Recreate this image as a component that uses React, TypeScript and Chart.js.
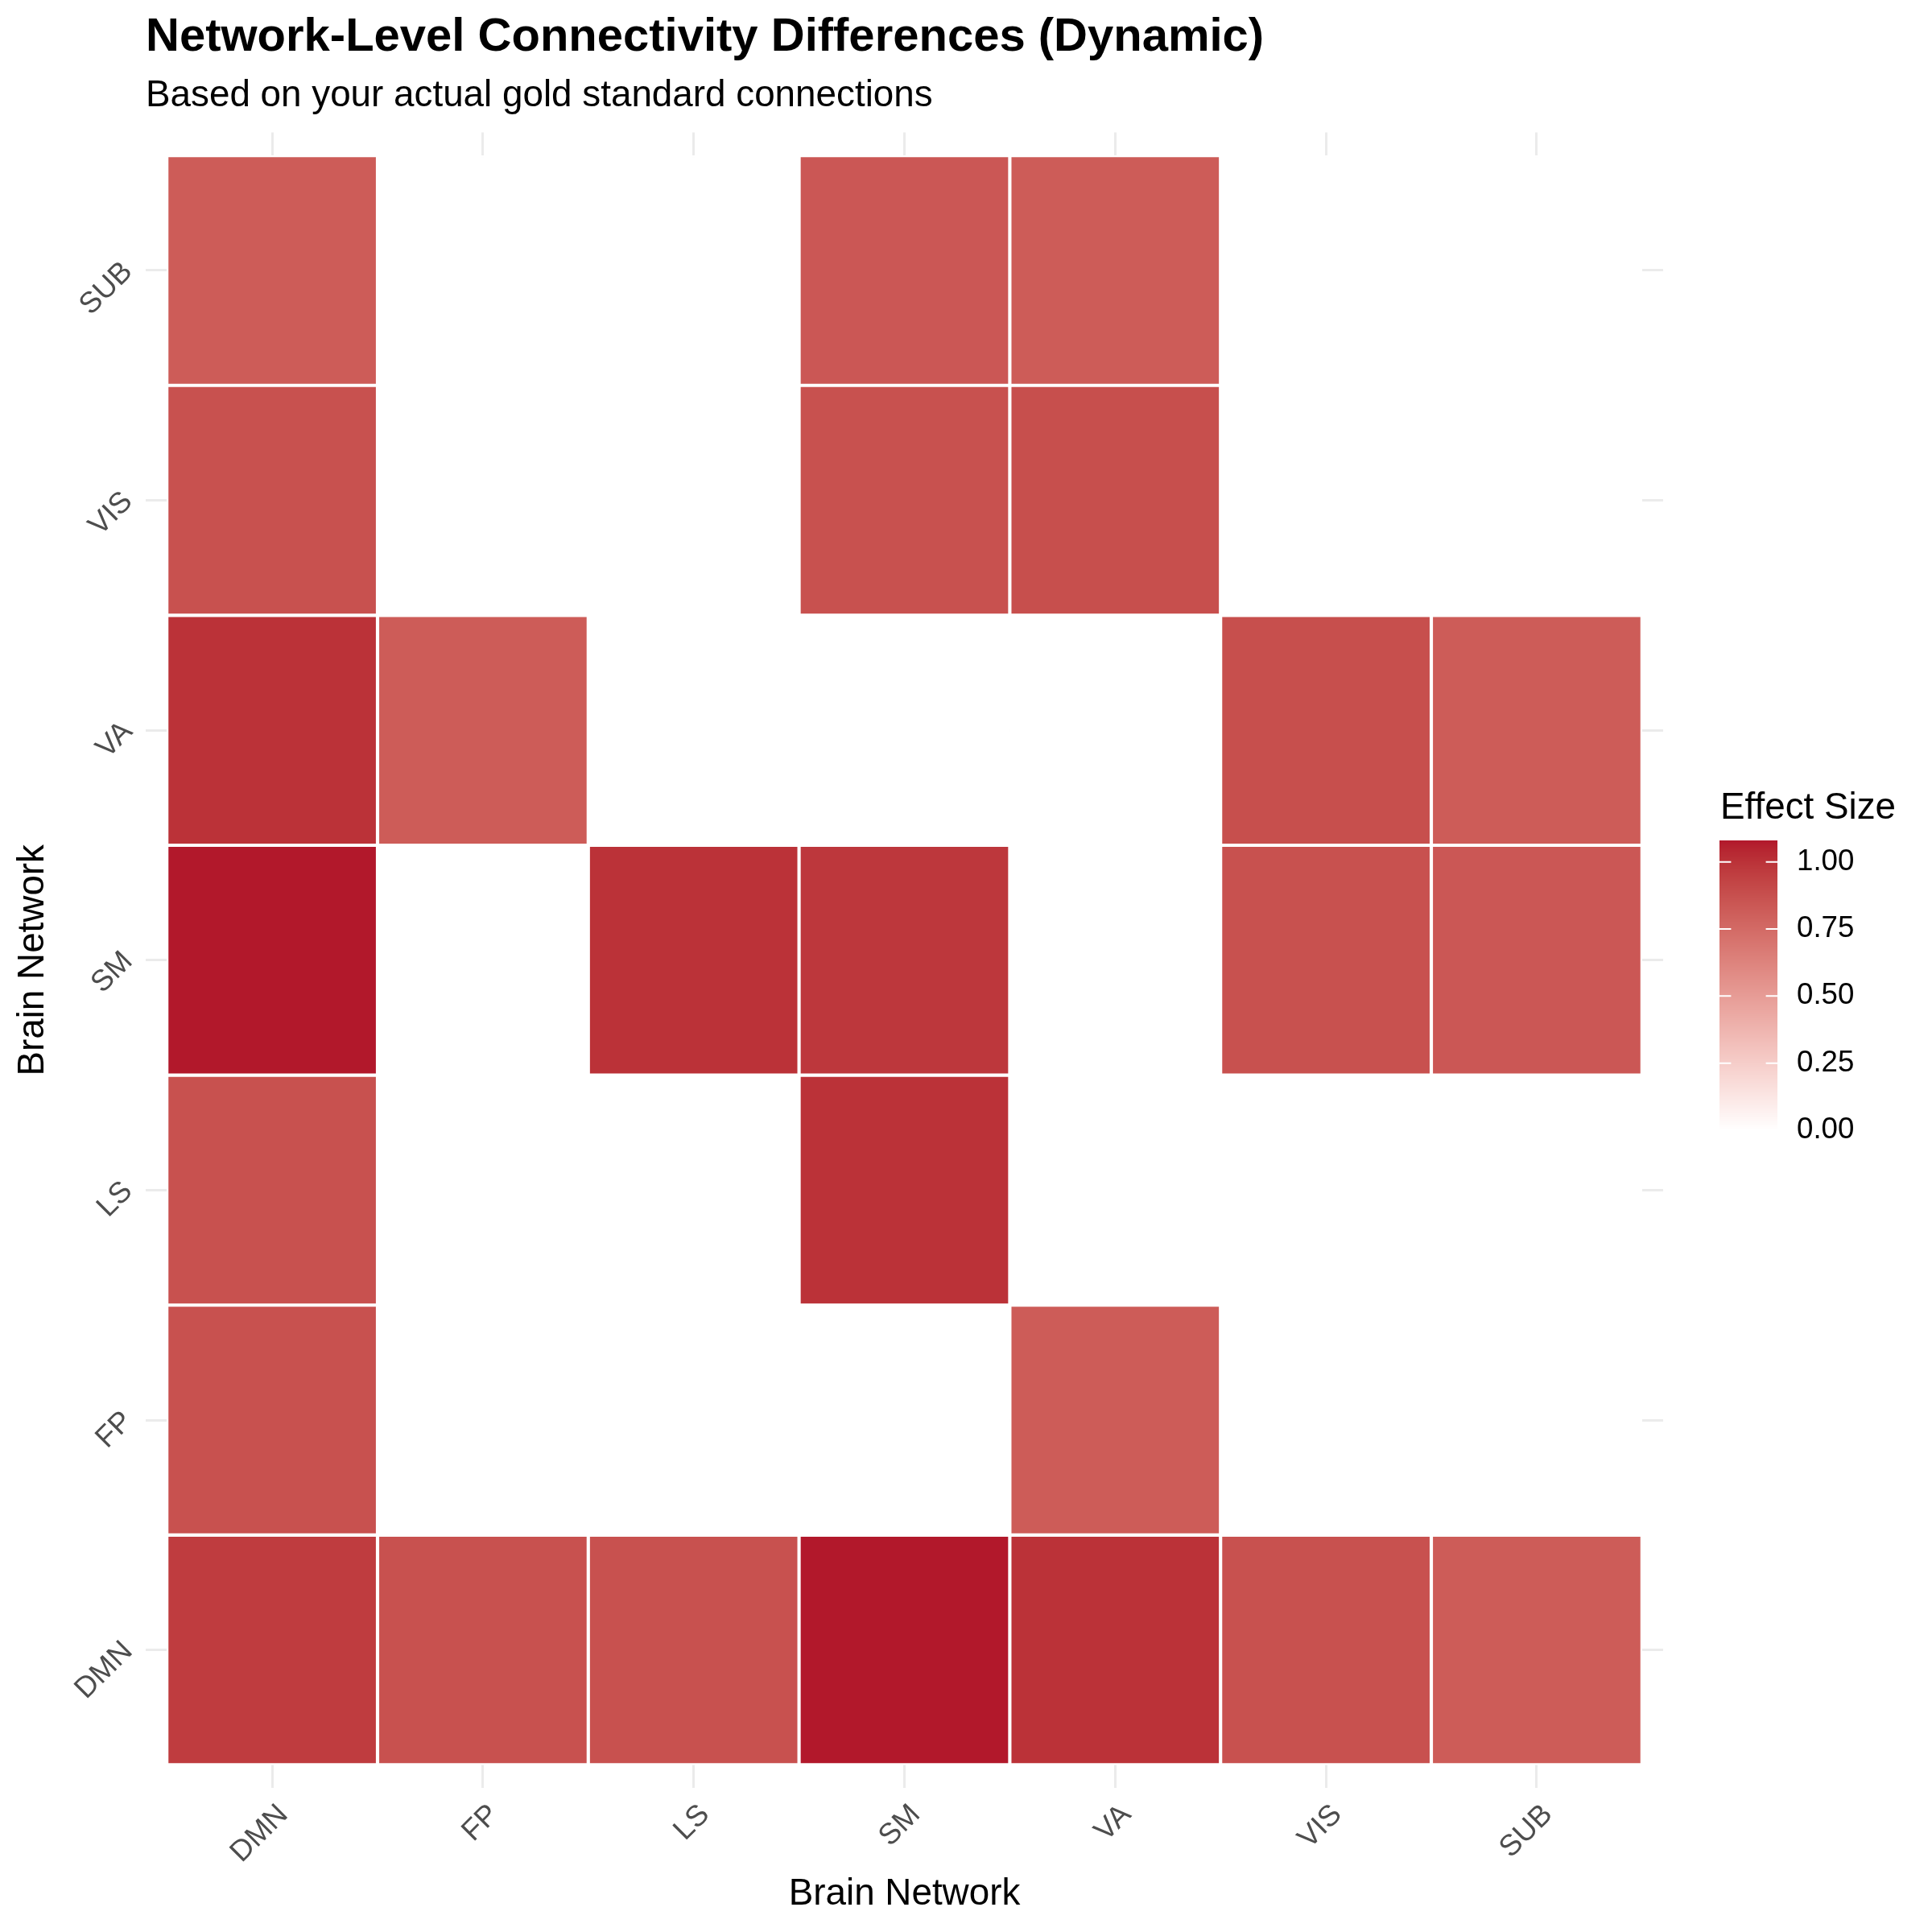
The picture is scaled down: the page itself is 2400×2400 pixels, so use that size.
import React, { useEffect, useRef } from 'react';
import { Chart, registerables } from 'chart.js';

Chart.register(...registerables);

// ---------------- data ----------------
const networks = ['DMN', 'FP', 'LS', 'SM', 'VA', 'VIS', 'SUB'];

// effect size per row (y network), columns in the order of `networks`; 0 = no connection
const rowDMN = [0.96, 0.87, 0.87, 1.08, 1.0, 0.87, 0.82];
const rowFP = [0.87, 0, 0, 0, 0.82, 0, 0];
const rowLS = [0.87, 0, 0, 1.0, 0, 0, 0];
const rowSM = [1.08, 0, 1.0, 0.98, 0, 0.87, 0.84];
const rowVA = [1.0, 0.82, 0, 0, 0, 0.88, 0.82];
const rowVIS = [0.87, 0, 0, 0.87, 0.88, 0, 0];
const rowSUB = [0.82, 0, 0, 0.84, 0.82, 0, 0];
const effectRows = [rowDMN, rowFP, rowLS, rowSM, rowVA, rowVIS, rowSUB];

const legendTicks = [0, 0.25, 0.5, 0.75, 1.0];
const fillMin = 0;
const fillMax = 1.08;

const titleText = 'Network-Level Connectivity Differences (Dynamic)';
const subtitleText = 'Based on your actual gold standard connections';
const axisTitle = 'Brain Network';
const legendTitle = 'Effect Size';

// ---------------- style ----------------
const FONT = '"Liberation Sans", Arial, Helvetica, sans-serif';
const LOW = '#FFFFFF';
const HIGH = '#B2182B';

// ---------------- colour (CIELAB interpolation like ggplot) ----------------
const hexToRgb = (h: string) => {
  const n = parseInt(h.slice(1), 16);
  return [(n >> 16) & 255, (n >> 8) & 255, n & 255];
};
const toLin = (c: number) => {
  c /= 255;
  return c <= 0.04045 ? c / 12.92 : Math.pow((c + 0.055) / 1.055, 2.4);
};
const fromLin = (c: number) => {
  const v = c <= 0.0031308 ? 12.92 * c : 1.055 * Math.pow(Math.max(c, 0), 1 / 2.4) - 0.055;
  return Math.round(Math.min(1, Math.max(0, v)) * 255);
};
const Xn = 0.95047, Yn = 1.0, Zn = 1.08883;
const fLab = (t: number) => (t > 216 / 24389 ? Math.cbrt(t) : (24389 / 27 * t + 16) / 116);
const fInv = (t: number) => (t > 6 / 29 ? t * t * t : 3 * (6 / 29) * (6 / 29) * (t - 4 / 29));
function rgbToLab(rgb: number[]) {
  const [r, g, b] = rgb.map(toLin);
  const X = 0.4124564 * r + 0.3575761 * g + 0.1804375 * b;
  const Y = 0.2126729 * r + 0.7151522 * g + 0.072175 * b;
  const Z = 0.0193339 * r + 0.119192 * g + 0.9503041 * b;
  const fx = fLab(X / Xn), fy = fLab(Y / Yn), fz = fLab(Z / Zn);
  return [116 * fy - 16, 500 * (fx - fy), 200 * (fy - fz)];
}
function labToRgb(lab: number[]) {
  const [L, a, b] = lab;
  const fy = (L + 16) / 116;
  const fx = fy + a / 500;
  const fz = fy - b / 200;
  const X = Xn * fInv(fx), Y = Yn * fInv(fy), Z = Zn * fInv(fz);
  const r = 3.2404542 * X - 1.5371385 * Y - 0.4985314 * Z;
  const g = -0.969266 * X + 1.8760108 * Y + 0.041556 * Z;
  const bb = 0.0556434 * X - 0.2040259 * Y + 1.0572252 * Z;
  return [fromLin(r), fromLin(g), fromLin(bb)];
}
const labLow = rgbToLab(hexToRgb(LOW));
const labHigh = rgbToLab(hexToRgb(HIGH));
function colorFor(v: number) {
  const t = Math.min(1, Math.max(0, (v - fillMin) / (fillMax - fillMin)));
  const lab = labLow.map((l, i) => l + (labHigh[i] - l) * t);
  const [r, g, b] = labToRgb(lab);
  return `rgb(${r},${g},${b})`;
}

// cells built from the rows
type Cell = { x: number; y: [number, number]; v: number };
const cells: Cell[] = [];
effectRows.forEach((row, r) => {
  row.forEach((v, c) => {
    cells.push({ x: c, y: [r - 0.5, r + 0.5], v });
  });
});

// ---------------- colour-bar legend plugin ----------------
const LEG = {
  titleX: 2137,
  titleBaseline: 1017,
  barLeft: 2136,
  barWidth: 72,
  barTop: 1044,
  barBottom: 1404,
  labelX: 2232,
  tickLen: 14.4,
};

const colorbarPlugin = {
  id: 'colorbarLegend',
  afterDraw(chart: any) {
    const ctx: CanvasRenderingContext2D = chart.ctx;
    ctx.save();
    // title
    ctx.font = `45.8px ${FONT}`;
    ctx.fillStyle = '#000000';
    ctx.textAlign = 'left';
    ctx.textBaseline = 'alphabetic';
    ctx.fillText(legendTitle, LEG.titleX, LEG.titleBaseline);

    const span = LEG.barBottom - LEG.barTop;
    const px = (v: number) => LEG.barBottom - ((v - fillMin) / (fillMax - fillMin)) * span;
    for (let py = LEG.barTop; py < LEG.barBottom; py++) {
      const v = fillMin + ((LEG.barBottom - py - 0.5) / span) * (fillMax - fillMin);
      ctx.fillStyle = colorFor(v);
      ctx.fillRect(LEG.barLeft, py, LEG.barWidth, 1);
    }
    // ticks + labels
    ctx.strokeStyle = '#FFFFFF';
    ctx.lineWidth = 2;
    ctx.font = `36.7px ${FONT}`;
    ctx.fillStyle = '#000000';
    ctx.textBaseline = 'middle';
    legendTicks.forEach((t) => {
      const y = px(t);
      ctx.beginPath();
      ctx.moveTo(LEG.barLeft, y);
      ctx.lineTo(LEG.barLeft + LEG.tickLen, y);
      ctx.moveTo(LEG.barLeft + LEG.barWidth - LEG.tickLen, y);
      ctx.lineTo(LEG.barLeft + LEG.barWidth, y);
      ctx.stroke();
      ctx.fillText(t.toFixed(2), LEG.labelX, y);
    });
    ctx.restore();
  },
};

const setTicks = (scale: any) => {
  scale.ticks = networks.map((_, i) => ({ value: i }));
};

export default function App() {
  const canvasRef = useRef<HTMLCanvasElement | null>(null);

  useEffect(() => {
    if (!canvasRef.current) return;
    Chart.defaults.font.family = FONT;
    const chart = new Chart(canvasRef.current, {
      type: 'bar',
      data: {
        datasets: [
          {
            label: legendTitle,
            data: cells.map((c) => ({ x: c.x, y: c.y })) as any,
            backgroundColor: cells.map((c) => colorFor(c.v)),
            borderColor: '#FFFFFF',
            borderWidth: 2.4,
            borderSkipped: false,
            barPercentage: 1,
            categoryPercentage: 1,
          },
        ],
      },
      options: {
        responsive: false,
        maintainAspectRatio: false,
        devicePixelRatio: 1,
        animation: false,
        layout: { padding: { left: 0, top: 0, right: 334, bottom: 0 } },
        plugins: {
          legend: { display: false },
          tooltip: { enabled: false },
          title: {
            display: true,
            text: titleText,
            align: 'start',
            fullSize: false,
            color: '#000000',
            font: { size: 58, weight: 'bold', family: FONT },
            padding: { top: 12, bottom: 0 },
          },
          subtitle: {
            display: true,
            text: subtitleText,
            align: 'start',
            fullSize: false,
            color: '#000000',
            font: { size: 45.8, weight: 'normal', family: FONT },
            padding: { top: 10, bottom: 18 },
          },
        },
        scales: {
          x: {
            type: 'linear',
            min: -0.6,
            max: 6.6,
            offset: false,
            afterBuildTicks: setTicks,
            afterFit: (s: any) => {
              s.height = 179;
            },
            grid: { color: '#EBEBEB', lineWidth: 3, drawTicks: false, offset: false },
            border: { display: false },
            ticks: {
              autoSkip: false,
              minRotation: 45,
              maxRotation: 45,
              padding: 12,
              labelOffset: 14,
              color: '#4D4D4D',
              font: { size: 36.7, family: FONT },
              callback: (v: any) => networks[v] ?? '',
            },
            title: {
              display: true,
              text: axisTitle,
              color: '#000000',
              font: { size: 45.8, family: FONT },
              padding: { top: 0, bottom: 19.5 },
            },
          },
          y: {
            type: 'linear',
            min: -0.6,
            max: 6.6,
            beginAtZero: false,
            afterBuildTicks: setTicks,
            afterFit: (s: any) => {
              s.width = 181;
            },
            grid: { color: '#EBEBEB', lineWidth: 3, drawTicks: false },
            border: { display: false },
            ticks: {
              autoSkip: false,
              minRotation: 45,
              maxRotation: 45,
              padding: 22,
              labelOffset: -4,
              color: '#4D4D4D',
              font: { size: 36.7, family: FONT },
              callback: (v: any) => networks[v] ?? '',
            },
            title: {
              display: true,
              text: axisTitle,
              color: '#000000',
              font: { size: 45.8, family: FONT },
              padding: { top: 13.5, bottom: 0 },
            },
          },
        },
      } as any,
      plugins: [colorbarPlugin],
    });
    return () => chart.destroy();
  }, []);

  return (
    <div style={{ position: 'absolute', left: 0, top: 0, width: 2400, height: 2400, background: '#FFFFFF' }}>
      <canvas ref={canvasRef} width={2400} height={2400} style={{ display: 'block', width: 2400, height: 2400 }} />
    </div>
  );
}
